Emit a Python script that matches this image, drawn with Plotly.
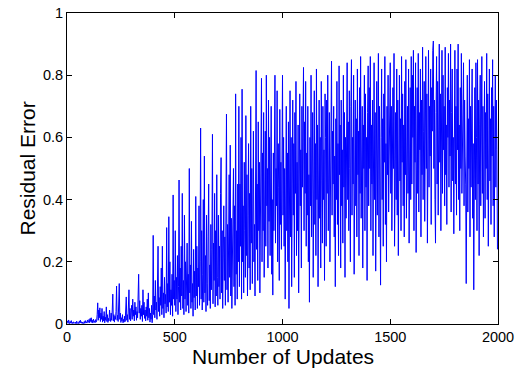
import plotly.graph_objects as go

step = 2.5
residual_error = [
    # 0-97.5
    0.004,0.010,0.002,0.013,0.006,0.001,0.008,0.003,0.011,0.002,0.005,0.001,0.007,0.003,0.004,0.002,0.006,0.001,0.009,0.003,
    0.002,0.005,0.001,0.010,0.004,0.012,0.003,0.007,0.002,0.006,0.001,0.004,0.008,0.002,0.011,0.004,0.007,0.003,0.013,0.005,
    # 100-197.5
    0.006,0.015,0.004,0.018,0.008,0.020,0.005,0.012,0.003,0.016,0.007,0.010,0.004,0.014,0.006,0.009,0.030,0.068,0.012,0.045,
    0.020,0.052,0.008,0.035,0.015,0.050,0.006,0.025,0.010,0.040,0.004,0.022,0.012,0.055,0.008,0.030,0.005,0.018,0.010,0.045,
    # 200-297.5
    0.020,0.008,0.035,0.012,0.045,0.096,0.010,0.030,0.006,0.025,0.015,0.040,0.122,0.012,0.028,0.008,0.050,0.130,0.015,0.035,
    0.005,0.020,0.010,0.030,0.004,0.015,0.006,0.025,0.008,0.040,0.087,0.012,0.030,0.006,0.045,0.110,0.015,0.050,0.010,0.035,
    # 300-397.5
    0.060,0.015,0.080,0.025,0.045,0.010,0.070,0.030,0.055,0.012,0.040,0.020,0.065,0.160,0.035,0.075,0.015,0.050,0.025,0.060,
    0.008,0.110,0.030,0.070,0.018,0.045,0.010,0.055,0.025,0.080,0.012,0.100,0.020,0.050,0.006,0.035,0.015,0.060,0.004,0.030,
    # 400-497.5
    0.285,0.030,0.090,0.020,0.140,0.045,0.070,0.015,0.110,0.250,0.040,0.085,0.025,0.120,0.060,0.180,0.030,0.250,0.050,0.100,
    0.020,0.150,0.065,0.095,0.035,0.310,0.055,0.130,0.040,0.345,0.070,0.200,0.030,0.110,0.060,0.160,0.025,0.415,0.080,0.140,
    # 500-597.5
    0.060,0.300,0.040,0.150,0.080,0.220,0.030,0.120,0.463,0.070,0.180,0.045,0.250,0.090,0.420,0.050,0.140,0.030,0.350,0.080,
    0.200,0.040,0.110,0.260,0.060,0.160,0.035,0.500,0.100,0.190,0.050,0.330,0.070,0.130,0.025,0.240,0.085,0.170,0.045,0.410,
    # 600-697.5
    0.090,0.250,0.050,0.180,0.120,0.380,0.060,0.200,0.630,0.080,0.300,0.045,0.160,0.400,0.070,0.540,0.100,0.220,0.040,0.350,
    0.130,0.060,0.280,0.450,0.075,0.190,0.050,0.320,0.110,0.240,0.610,0.065,0.260,0.140,0.420,0.055,0.300,0.090,0.480,0.150,
    # 700-797.5
    0.060,0.350,0.120,0.250,0.080,0.420,0.535,0.100,0.300,0.050,0.200,0.380,0.140,0.280,0.060,0.450,0.675,0.110,0.320,0.070,
    0.220,0.480,0.150,0.575,0.090,0.340,0.050,0.260,0.180,0.500,0.120,0.380,0.060,0.740,0.160,0.300,0.080,0.450,0.200,0.700,
    # 800-897.5
    0.120,0.450,0.250,0.600,0.080,0.755,0.200,0.380,0.100,0.520,0.300,0.150,0.670,0.220,0.480,0.090,0.350,0.580,0.180,0.420,
    0.110,0.700,0.260,0.500,0.130,0.400,0.620,0.200,0.320,0.090,0.550,0.815,0.240,0.450,0.140,0.650,0.300,0.520,0.100,0.400,
    # 900-997.5
    0.350,0.790,0.200,0.550,0.300,0.680,0.150,0.450,0.620,0.250,0.800,0.380,0.500,0.180,0.720,0.330,0.600,0.220,0.480,0.700,
    0.160,0.400,0.093,0.550,0.300,0.650,0.800,0.260,0.500,0.380,0.750,0.200,0.580,0.440,0.140,0.690,0.320,0.520,0.240,0.760,
    # 1000-1097.5
    0.800,0.350,0.600,0.250,0.500,0.080,0.450,0.700,0.300,0.550,0.200,0.650,0.050,0.400,0.750,0.280,0.600,0.120,0.480,0.720,
    0.350,0.580,0.150,0.680,0.420,0.780,0.220,0.520,0.300,0.640,0.100,0.460,0.740,0.380,0.560,0.180,0.700,0.440,0.620,0.825,
    # 1100-1197.5
    0.300,0.650,0.420,0.780,0.250,0.550,0.350,0.700,0.200,0.480,0.070,0.600,0.380,0.800,0.280,0.520,0.680,0.150,0.450,0.750,
    0.320,0.580,0.220,0.820,0.400,0.640,0.120,0.500,0.720,0.340,0.600,0.180,0.780,0.460,0.260,0.700,0.400,0.560,0.140,0.740,
    # 1200-1297.5
    0.600,0.250,0.720,0.420,0.800,0.300,0.560,0.680,0.200,0.500,0.760,0.845,0.350,0.620,0.450,0.700,0.280,0.540,0.120,0.660,
    0.400,0.780,0.320,0.580,0.220,0.830,0.480,0.640,0.180,0.720,0.380,0.560,0.260,0.800,0.440,0.680,0.150,0.600,0.340,0.760,
    # 1300-1397.5
    0.840,0.400,0.650,0.300,0.750,0.500,0.200,0.700,0.850,0.350,0.600,0.450,0.800,0.160,0.560,0.720,0.380,0.660,0.280,0.820,
    0.480,0.620,0.220,0.760,0.420,0.860,0.340,0.580,0.700,0.180,0.640,0.500,0.800,0.300,0.740,0.440,0.600,0.140,0.680,0.830,
    # 1400-1497.5
    0.380,0.760,0.500,0.860,0.300,0.640,0.450,0.720,0.220,0.580,0.840,0.400,0.680,0.170,0.620,0.780,0.350,0.540,0.870,0.280,
    0.700,0.460,0.125,0.600,0.820,0.400,0.660,0.250,0.740,0.520,0.860,0.320,0.580,0.200,0.700,0.480,0.800,0.360,0.640,0.550,
    # 1500-1597.5
    0.840,0.420,0.700,0.300,0.620,0.760,0.500,0.870,0.250,0.580,0.680,0.400,0.820,0.350,0.720,0.220,0.600,0.800,0.460,0.660,
    0.300,0.860,0.520,0.740,0.380,0.640,0.280,0.780,0.480,0.850,0.340,0.600,0.700,0.420,0.820,0.260,0.560,0.760,0.400,0.860,
    # 1600-1697.5
    0.450,0.800,0.600,0.880,0.300,0.700,0.520,0.840,0.230,0.640,0.760,0.420,0.870,0.360,0.680,0.560,0.820,0.280,0.720,0.480,
    0.890,0.400,0.620,0.780,0.330,0.660,0.860,0.500,0.740,0.260,0.600,0.880,0.440,0.700,0.540,0.820,0.320,0.760,0.620,0.880,
    # 1700-1797.5
    0.910,0.500,0.720,0.400,0.260,0.680,0.860,0.450,0.780,0.350,0.620,0.900,0.520,0.740,0.300,0.660,0.880,0.420,0.800,0.560,
    0.700,0.380,0.890,0.480,0.640,0.320,0.760,0.600,0.870,0.440,0.720,0.540,0.900,0.360,0.680,0.820,0.460,0.600,0.290,0.780,
    # 1800-1897.5
    0.880,0.450,0.700,0.350,0.820,0.560,0.900,0.400,0.640,0.300,0.760,0.500,0.870,0.420,0.680,0.600,0.840,0.380,0.720,0.540,
    0.450,0.130,0.600,0.800,0.360,0.660,0.500,0.850,0.280,0.700,0.440,0.620,0.820,0.340,0.580,0.110,0.480,0.760,0.400,0.840,
    # 1900-1997.5
    0.600,0.300,0.850,0.450,0.720,0.220,0.640,0.800,0.380,0.560,0.860,0.420,0.700,0.280,0.620,0.780,0.340,0.680,0.500,0.870,
    0.400,0.740,0.250,0.600,0.820,0.460,0.660,0.320,0.760,0.540,0.850,0.380,0.700,0.280,0.620,0.800,0.440,0.720,0.560,0.240,
]
updates = [i * step for i in range(len(residual_error))]

x_ticks = [0, 500, 1000, 1500, 2000]
y_ticks = [0, 0.2, 0.4, 0.6, 0.8, 1]
y_tick_labels = ["0", "0.2", "0.4", "0.6", "0.8", "1"]
x_title = "Number of Updates"
y_title = "Residual Error"

fig = go.Figure()
fig.add_trace(go.Scatter(
    x=updates, y=residual_error, mode="lines",
    line=dict(color="#0000FF", width=1),
    showlegend=False,
))

font_family = "Liberation Sans, Arial, sans-serif"
axis_common = dict(
    showline=True, linecolor="black", linewidth=1, mirror="ticks",
    ticks="inside", ticklen=5, tickcolor="black", tickwidth=1,
    showgrid=False, zeroline=False, automargin=False,
    tickfont=dict(family=font_family, size=14.5, color="black"),
)

plot_w = 516 - 67 - 18
plot_h = 369 - 13 - 45

fig.update_layout(
    width=516, height=369,
    margin=dict(l=67, r=18, t=13, b=45),
    paper_bgcolor="white", plot_bgcolor="white",
    xaxis=dict(range=[0, 2000], tickvals=x_ticks, **axis_common),
    yaxis=dict(range=[0, 1], tickvals=y_ticks, ticktext=y_tick_labels, **axis_common),
    annotations=[
        dict(text=x_title, xref="paper", yref="paper", x=0.5, y=-32 / plot_h,
             xanchor="center", yanchor="middle", showarrow=False, borderpad=0,
             font=dict(family=font_family, size=21, color="black")),
        dict(text=y_title, xref="paper", yref="paper", x=-40 / plot_w, y=0.5,
             xanchor="center", yanchor="middle", textangle=-90, showarrow=False, borderpad=0,
             font=dict(family=font_family, size=21, color="black")),
    ],
)

fig.write_html("out.html")
